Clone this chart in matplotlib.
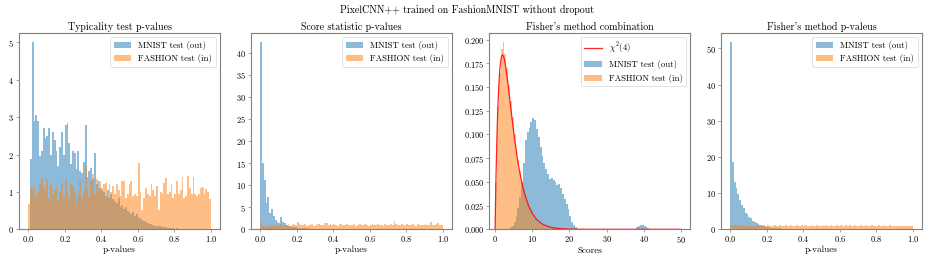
import numpy as np
import matplotlib
matplotlib.use("Agg")
import matplotlib.pyplot as plt

plt.rcParams['font.family'] = 'serif'
plt.rcParams['font.serif'] = ['cmr10']
plt.rcParams['mathtext.fontset'] = 'cm'
plt.rcParams['axes.formatter.use_mathtext'] = True

suptitle = "PixelCNN++ trained on FashionMNIST without dropout"
titles = ["Typicality test p-values", "Score statistic p-values",
          "Fisher's method combination", "Fisher's method p-valeus"]
xlabels = ["p-values", "p-values", "Scores", "p-values"]
label_out = "MNIST test (out)"
label_in = "FASHION test (in)"
label_chi = r"$\chi^2(4)$"

# ---- Panel 1: typicality test p-values (100 bins over [0,1]) ----
p1_mnist = [0.0, 1.88, 5.0, 2.9, 3.05, 2.9, 1.95, 2.1, 2.7, 2.45,
            2.5, 2.7, 2.0, 2.6, 2.4, 2.1, 1.7, 2.2, 2.6, 2.0,
            2.8, 2.85, 2.3, 1.75, 2.1, 2.05, 1.6, 2.1, 1.55, 1.5,
            1.8, 2.8, 1.4, 1.55, 1.65, 1.35, 2.05, 1.2, 1.3, 1.1,
            1.05, 1.0, 0.9, 1.05, 0.85, 0.95, 0.8, 0.75, 0.7, 0.85,
            0.6, 0.65, 0.55, 0.6, 0.5, 0.45, 0.4, 0.45, 0.35, 0.4,
            0.3, 0.3, 0.25, 0.22, 0.2, 0.18, 0.15, 0.15, 0.12, 0.1,
            0.1, 0.08, 0.08, 0.06, 0.05, 0.06, 0.04, 0.04, 0.03, 0.03,
            0.02, 0.03, 0.02, 0.02, 0.01, 0.02, 0.01, 0.01, 0.01, 0.01,
            0.0, 0.01, 0.0, 0.01, 0.0, 0.0, 0.0, 0.0, 0.0, 0.0]
p1_fashion = [0.67, 1.14, 1.05, 1.15, 0.9, 1.0, 1.2, 1.37, 1.1, 0.95,
              1.35, 0.8, 1.2, 0.95, 1.05, 1.1, 0.75, 1.0, 1.25, 0.9,
              1.35, 1.05, 0.8, 1.2, 1.15, 1.0, 0.7, 0.95, 1.3, 0.85,
              1.05, 1.7, 1.1, 0.9, 1.3, 1.47, 0.95, 1.35, 1.05, 1.3,
              1.1, 1.2, 1.25, 0.85, 1.2, 1.0, 1.15, 0.95, 1.2, 1.05,
              0.9, 1.3, 1.28, 0.85, 0.95, 1.2, 1.28, 0.9, 0.95, 0.9,
              1.78, 1.0, 0.52, 0.85, 1.1, 0.95, 0.9, 1.2, 1.05, 0.9,
              1.17, 0.52, 1.0, 0.95, 1.25, 1.37, 0.95, 1.0, 1.2, 0.85,
              0.95, 1.3, 0.95, 1.05, 1.41, 0.83, 0.9, 1.43, 1.1, 0.95,
              1.41, 0.95, 0.9, 0.95, 1.1, 1.14, 0.95, 1.08, 1.0, 0.8]

# ---- Panel 2: score statistic p-values ----
p2_mnist = [42.3, 14.9, 11.2, 5.9, 7.2, 3.6, 4.6, 2.9, 2.1, 1.7,
            1.5, 2.8, 1.7, 1.4, 1.0, 0.8, 0.7, 0.6, 0.5, 0.45,
            0.4, 0.35, 0.3, 0.3, 0.25, 0.22, 0.2, 0.18, 0.15, 0.15,
            0.12, 0.1, 0.1, 0.08, 0.08, 0.07, 0.06, 0.06, 0.05, 0.05,
            0.04, 0.04, 0.04, 0.03, 0.03, 0.03, 0.03, 0.02, 0.02, 0.02,
            0.02, 0.02, 0.02, 0.01, 0.01, 0.01, 0.01, 0.01, 0.01, 0.01,
            0.01, 0.01, 0.01, 0.01, 0.01, 0.0, 0.01, 0.0, 0.01, 0.0,
            0.0, 0.0, 0.0, 0.0, 0.0, 0.0, 0.0, 0.0, 0.0, 0.0,
            0.0, 0.0, 0.0, 0.0, 0.0, 0.0, 0.0, 0.0, 0.0, 0.0,
            0.0, 0.0, 0.0, 0.0, 0.0, 0.0, 0.0, 0.0, 0.0, 0.0]
p2_fashion = [1.6, 0.7, 0.6, 0.9, 0.8, 0.9, 0.7, 1.0, 0.8, 1.1,
              0.9, 1.2, 0.8, 1.0, 0.9, 1.1, 0.8, 0.9, 1.2, 1.0,
              1.7, 1.1, 0.9, 1.0, 1.2, 0.8, 1.0, 0.9, 1.1, 0.8,
              1.0, 1.3, 1.2, 0.9, 1.0, 1.5, 1.4, 1.0, 1.2, 0.9,
              1.1, 1.0, 0.8, 1.1, 1.2, 0.9, 1.0, 1.1, 0.9, 1.0,
              1.0, 1.2, 0.8, 0.9, 1.1, 1.0, 0.9, 1.2, 1.0, 0.8,
              1.0, 1.1, 0.9, 1.0, 1.2, 0.9, 1.0, 0.8, 1.1, 0.9,
              1.0, 1.2, 0.9, 1.8, 1.1, 1.0, 0.9, 1.2, 1.0, 0.9,
              1.1, 1.0, 0.9, 1.2, 1.0, 0.8, 1.1, 1.0, 0.9, 1.0,
              1.1, 0.9, 1.0, 1.6, 1.0, 0.9, 1.1, 1.5, 1.0, 0.9]

# ---- Panel 3: Fisher's method combination (bins of 0.5 over [0,50]) ----
p3_edges_lo = 0.0
p3_edges_hi = 50.0
p3_mnist = [0, 0, 0, 0, 0, 0, 0, 0, 0.002, 0.004,
            0.008, 0.014, 0.022, 0.034, 0.05, 0.07, 0.094, 0.103, 0.107, 0.113,
            0.117, 0.115, 0.106, 0.097, 0.087, 0.077, 0.07, 0.064, 0.058, 0.053,
            0.054, 0.052, 0.05, 0.047, 0.048, 0.044, 0.037, 0.032, 0.027, 0.021,
            0.014, 0.008, 0.005, 0.002, 0.0008, 0, 0, 0, 0, 0,
            0, 0, 0, 0, 0, 0, 0, 0, 0, 0,
            0, 0, 0, 0, 0, 0, 0, 0, 0, 0,
            0, 0, 0, 0, 0, 0, 0.002, 0.004, 0.005, 0.005,
            0.004, 0.002, 0.001, 0, 0, 0, 0, 0, 0, 0,
            0, 0, 0, 0, 0, 0, 0, 0, 0, 0]
p3_fashion = [0.05, 0.13, 0.165, 0.19, 0.197, 0.185, 0.17, 0.152, 0.135, 0.118,
              0.1, 0.086, 0.073, 0.061, 0.05, 0.041, 0.034, 0.028, 0.023, 0.018,
              0.014, 0.011, 0.009, 0.007, 0.0055, 0.0045, 0.0035, 0.0025, 0.002, 0.0015,
              0.0012, 0.001, 0.0008, 0.0006, 0.0005, 0.0004, 0.0003, 0.0002, 0.0002, 0.0001,
              0, 0, 0, 0, 0, 0, 0, 0, 0, 0,
              0, 0, 0, 0, 0, 0, 0, 0, 0, 0,
              0, 0, 0, 0, 0, 0, 0, 0, 0, 0,
              0, 0, 0, 0, 0, 0, 0, 0, 0, 0,
              0, 0, 0, 0, 0, 0, 0, 0, 0, 0,
              0, 0, 0, 0, 0, 0, 0, 0, 0, 0]
chi_x = [0, 0.25, 0.5, 0.75, 1.0, 1.25, 1.5, 1.75, 2.0, 2.25, 2.5, 2.75, 3.0,
         3.5, 4.0, 4.5, 5.0, 5.5, 6.0, 6.5, 7.0, 7.5, 8.0, 9.0, 10.0, 11.0,
         12.0, 13.0, 14.0, 16.0, 18.0, 20.0, 25.0, 30.0, 40.0, 50.0]
chi_y = [0.0, 0.0551, 0.0974, 0.1289, 0.1516, 0.1671, 0.1771, 0.1824, 0.1839,
         0.1826, 0.1791, 0.1737, 0.1673, 0.1521, 0.1353, 0.1186, 0.1026, 0.0880,
         0.0747, 0.0630, 0.0528, 0.0441, 0.0366, 0.0250, 0.0168, 0.0112, 0.0074,
         0.0049, 0.0032, 0.0013, 0.0006, 0.0002, 0.0, 0.0, 0.0, 0.0]

# ---- Panel 4: Fisher's method p-values ----
p4_mnist = [51.7, 18.7, 13.2, 11.3, 9.9, 8.1, 6.7, 5.8, 4.6, 4.2,
            3.3, 3.0, 2.4, 1.9, 1.8, 1.5, 1.2, 1.0, 0.8, 0.7,
            0.6, 0.5, 0.45, 0.4, 0.35, 0.3, 0.28, 0.25, 0.22, 0.2,
            0.18, 0.15, 0.14, 0.12, 0.1, 0.1, 0.08, 0.08, 0.07, 0.06,
            0.05, 0.05, 0.04, 0.04, 0.03, 0.03, 0.03, 0.02, 0.02, 0.02,
            0.02, 0.02, 0.01, 0.01, 0.01, 0.01, 0.01, 0.01, 0.01, 0.01,
            0.01, 0.0, 0.01, 0.0, 0.0, 0.0, 0.0, 0.0, 0.0, 0.0,
            0.0, 0.0, 0.0, 0.0, 0.0, 0.0, 0.0, 0.0, 0.0, 0.0,
            0.0, 0.0, 0.0, 0.0, 0.0, 0.0, 0.0, 0.0, 0.0, 0.0,
            0.0, 0.0, 0.0, 0.0, 0.0, 0.0, 0.0, 0.0, 0.0, 0.0]
p4_fashion = [1.3, 1.2, 1.1, 1.2, 1.0, 1.1, 1.2, 1.0, 1.1, 0.9,
              1.0, 1.1, 0.9, 1.0, 1.2, 0.9, 1.0, 1.1, 1.2, 0.9,
              1.1, 1.0, 0.9, 1.0, 1.1, 0.9, 1.0, 1.2, 0.9, 1.0,
              1.1, 0.9, 1.0, 1.1, 1.0, 0.9, 1.2, 1.0, 0.9, 1.1,
              1.0, 1.2, 0.9, 1.0, 1.1, 0.9, 1.0, 1.2, 1.0, 0.9,
              1.1, 1.0, 1.2, 0.9, 1.0, 1.1, 1.0, 0.9, 1.1, 1.0,
              1.2, 1.0, 0.9, 1.1, 1.0, 1.2, 0.9, 1.0, 1.1, 0.9,
              1.0, 1.1, 1.0, 0.9, 1.2, 1.0, 0.9, 1.1, 1.0, 0.9,
              1.0, 1.1, 0.9, 1.0, 1.2, 0.9, 1.0, 1.1, 0.9, 0.8,
              1.0, 0.9, 0.8, 1.0, 0.9, 0.8, 0.9, 0.8, 0.9, 0.8]

BLUE = '#1f77b4'
ORANGE = '#ff7f0e'
SPINE = '#808080'

fig = plt.figure(figsize=(9.34, 2.67), dpi=100)
lefts = [19, 251, 489.5, 721]
W, H = 934.0, 267.0
axes = [fig.add_axes([l / W, 37.7 / H, 201 / W, 196.3 / H]) for l in lefts]

def draw_hist(ax, lo, hi, vals, color, label):
    vals = np.asarray(vals, dtype=float)
    edges = np.linspace(lo, hi, len(vals) + 1)
    centers = 0.5 * (edges[:-1] + edges[1:])
    ax.hist(centers, bins=edges, weights=vals, color=color, alpha=0.5, label=label)

datasets = [(0, 1, p1_mnist, p1_fashion), (0, 1, p2_mnist, p2_fashion),
            (p3_edges_lo, p3_edges_hi, p3_mnist, p3_fashion), (0, 1, p4_mnist, p4_fashion)]

for i, (ax, (lo, hi, m, f)) in enumerate(zip(axes, datasets)):
    if i == 2:
        ax.plot(chi_x, chi_y, color='red', lw=0.9, alpha=0.85, label=label_chi, zorder=3)
    draw_hist(ax, lo, hi, m, BLUE, label_out)
    draw_hist(ax, lo, hi, f, ORANGE, label_in)
    ax.set_title(titles[i], fontsize=7.2, pad=2)
    ax.set_xlabel(xlabels[i], fontsize=6.6, labelpad=1)
    ax.tick_params(labelsize=6.0, length=2, width=0.5, color=SPINE, pad=1.5)
    for s in ax.spines.values():
        s.set_color(SPINE)
        s.set_linewidth(0.8)
    leg = ax.legend(loc='upper right', fontsize=6.3, framealpha=0.8,
                    handlelength=2.0, borderpad=0.4, labelspacing=0.5)
    leg.get_frame().set_linewidth(0.5)

axes[2].set_xticks([0, 10, 20, 30, 40, 50])
axes[2].set_yticks(np.arange(0, 0.2001, 0.025))
axes[2].set_xlim(-1.5, 52.6)

fig.suptitle(suptitle, fontsize=7.2, y=0.962, va='center')
fig.savefig('out.png', dpi=100)
